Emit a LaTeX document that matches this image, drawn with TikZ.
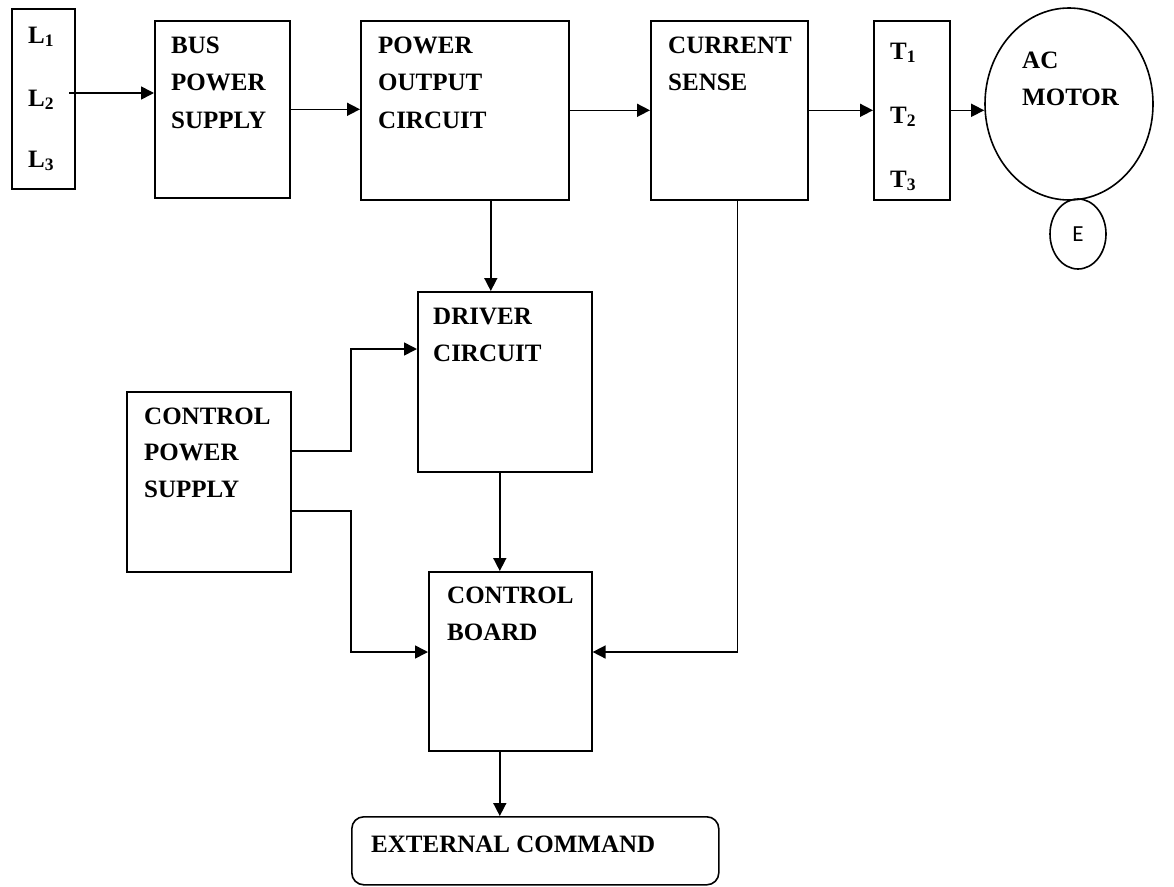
\documentclass[tikz,border=0pt]{standalone}
\usepackage{fontspec}
\setmainfont{Liberation Serif}
\newfontfamily\efont{Carlito}
\usetikzlibrary{arrows.meta,shapes.geometric}
\begin{document}
\begin{tikzpicture}[x=1pt,y=-1pt,
  box/.style={draw, line width=1.6pt, inner sep=0pt, anchor=north west},
  lbl/.style={anchor=base west, inner sep=0pt, font=\fontsize{25}{30}\selectfont\bfseries},
  arr/.style={line width=1.6pt, -{Triangle[length=13pt,width=13pt]}},
  ln/.style={line width=1.6pt}]
\useasboundingbox (0,0) rectangle (1174,886);
% boxes
\node[box, minimum width=63pt, minimum height=180pt] (lbox) at (11,8) {};
\node[box, minimum width=135pt, minimum height=177pt] (bus) at (154,20) {};
\node[box, minimum width=208pt, minimum height=179pt] (poc) at (360,20) {};
\node[box, minimum width=157pt, minimum height=179pt] (cs) at (650,20) {};
\node[box, minimum width=76pt, minimum height=179pt] (tbox) at (873,20) {};
\node[draw, line width=1.6pt, ellipse, inner sep=0pt, minimum width=168pt, minimum height=192pt] (motor) at (1069,104) {};
\node[draw, line width=1.6pt, ellipse, inner sep=0pt, minimum width=56pt, minimum height=70pt, font=\efont\fontsize{23}{26}\selectfont] (e) at (1078,234) {E};
\node[box, minimum width=174pt, minimum height=180pt] (drv) at (417,291) {};
\node[box, minimum width=164pt, minimum height=180pt] (cps) at (126,391) {};
\node[box, minimum width=163pt, minimum height=179pt] (cb) at (428,571) {};
\node[box, rounded corners=12pt, minimum width=367pt, minimum height=68pt] (ext) at (351,816) {};
% labels
\node[lbl] (l1) at (28,43) {L\textsubscript{1}};
\node[lbl] (l2) at (28,106) {L\textsubscript{2}};
\node[lbl] (l3) at (28,167) {L\textsubscript{3}};
\node[lbl] (bus1) at (171,53) {BUS};
\node[lbl] (bus2) at (171,90) {POWER};
\node[lbl] (bus3) at (171,128) {SUPPLY};
\node[lbl] (poc1) at (378,53) {POWER};
\node[lbl] (poc2) at (378,90) {OUTPUT};
\node[lbl] (poc3) at (378,128) {CIRCUIT};
\node[lbl] (cs1) at (668,53) {CURRENT};
\node[lbl] (cs2) at (668,90) {SENSE};
\node[lbl] (t1) at (890,59) {T\textsubscript{1}};
\node[lbl] (t2) at (890,123) {T\textsubscript{2}};
\node[lbl] (t3) at (890,187) {T\textsubscript{3}};
\node[lbl] (m1) at (1022,68) {AC};
\node[lbl] (m2) at (1022,105) {MOTOR};
\node[lbl] (drv1) at (433,324) {DRIVER};
\node[lbl] (drv2) at (433,361) {CIRCUIT};
\node[lbl] (cps1) at (144,424) {CONTROL};
\node[lbl] (cps2) at (144,460) {POWER};
\node[lbl] (cps3) at (144,497) {SUPPLY};
\node[lbl] (cb1) at (447,603) {CONTROL};
\node[lbl] (cb2) at (447,640) {BOARD};
\node[lbl] (ext1) at (371,852) {EXTERNAL COMMAND};
% connectors
\coordinate (lout) at (69,93);
\coordinate (j1) at (351,349);
\coordinate (j2) at (351,652);
\draw[arr] (lout) -- (lout -| bus.west);
\draw[arr] (bus.east) -- (bus.east -| poc.west);
\draw[arr] (poc.east) -- (poc.east -| cs.west);
\draw[arr] (cs.east) -- (cs.east -| tbox.west);
\draw[arr] (tbox.east) -- (tbox.east -| motor.west);
\draw[arr] ([xshift=26pt]poc.south) -- ([xshift=26pt]poc.south |- drv.north);
\draw[arr] ([xshift=-5pt]drv.south) -- ([xshift=-5pt]drv.south |- cb.north);
\draw[arr] ([yshift=31pt]cps.east) -| (j1) -- (j1 -| drv.west);
\draw[arr] ([yshift=-29pt]cps.east) -| (j2) -- (j2 -| cb.west);
\draw[arr] ([xshift=8pt]cs.south) |- (j2 -| cb.east);
\draw[arr] ([xshift=-10.5pt]cb.south) -- ([xshift=-10.5pt]cb.south |- ext.north);
\end{tikzpicture}
\end{document}
